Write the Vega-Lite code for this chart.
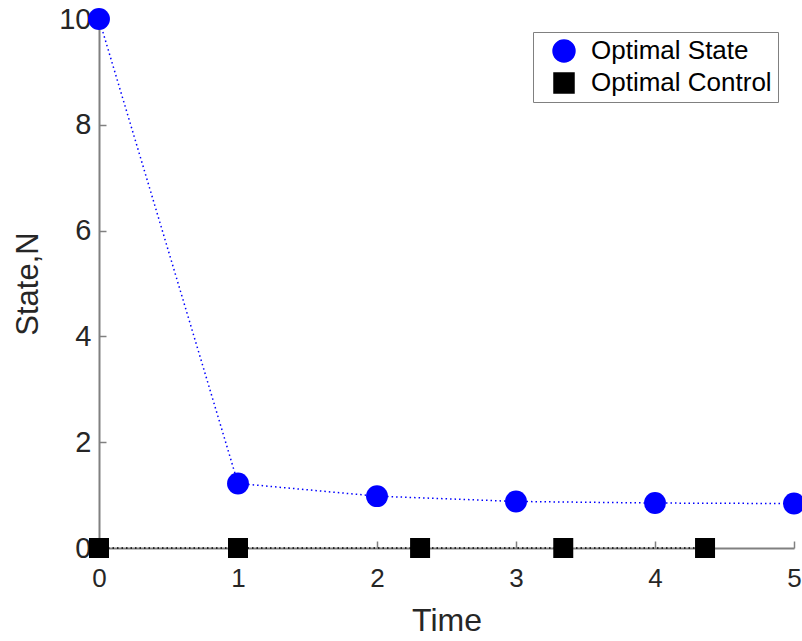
{
  "$schema": "https://vega.github.io/schema/vega-lite/v6.json",
  "width": 695,
  "height": 529,
  "autosize": {"type": "none"},
  "padding": {"left": 99, "top": 19, "right": 8, "bottom": 93},
  "background": "white",
  "config": {
    "view": {"stroke": null},
    "font": "Liberation Sans",
    "axis": {
      "grid": false,
      "domainColor": "#808080",
      "domainWidth": 2,
      "tickColor": "#808080",
      "tickWidth": 1.5,
      "tickSize": -7,
      "labelColor": "#262626",
      "titleColor": "#262626",
      "labelFont": "Liberation Sans",
      "titleFont": "Liberation Sans",
      "titleFontWeight": "normal",
      "labelFlush": false
    }
  },
  "datasets": {
    "pts": [
      {"time": 0, "value": 10, "series": "Optimal State"},
      {"time": 1, "value": 1.22, "series": "Optimal State"},
      {"time": 2, "value": 0.98, "series": "Optimal State"},
      {"time": 3, "value": 0.88, "series": "Optimal State"},
      {"time": 4, "value": 0.85, "series": "Optimal State"},
      {"time": 5, "value": 0.84, "series": "Optimal State"},
      {"time": 0, "value": 0, "series": "Optimal Control"},
      {"time": 1, "value": 0, "series": "Optimal Control"},
      {"time": 2.31, "value": 0, "series": "Optimal Control"},
      {"time": 3.34, "value": 0, "series": "Optimal Control"},
      {"time": 4.36, "value": 0, "series": "Optimal Control"}
    ]
  },
  "data": {"name": "pts"},
  "encoding": {
    "x": {
      "field": "time", "type": "quantitative",
      "scale": {"domain": [0, 5], "nice": false, "zero": false},
      "axis": {"title": "Time", "values": [0, 1, 2, 3, 4, 5], "format": "d", "labelFontSize": 26, "titleFontSize": 32, "labelPadding": 24, "titlePadding": 14}
    },
    "y": {
      "field": "value", "type": "quantitative",
      "scale": {"domain": [0, 10], "nice": false},
      "axis": {"title": "State,N", "values": [0, 2, 4, 6, 8, 10], "format": "d", "labelFontSize": 29, "titleFontSize": 31, "labelPadding": 15, "titlePadding": 14}
    },
    "color": {"field": "series", "type": "nominal", "scale": {"domain": ["Optimal State", "Optimal Control"], "range": ["#0000ff", "#000000"]},
      "legend": {
        "title": null, "orient": "none", "legendX": 434, "legendY": 13,
        "labelFontSize": 26, "labelColor": "#000000", "labelFont": "Liberation Sans", "labelLimit": 400,
        "symbolSize": 380, "strokeColor": "#808080", "fillColor": "white",
        "padding": 6, "rowPadding": 5, "labelOffset": 14, "symbolOffset": 12, "symbolType": "circle"
      }}
  },
  "layer": [
    {
      "mark": {"type": "line", "strokeDash": [1.5, 3], "strokeWidth": 1.5, "clip": false},
      "encoding": {
        "detail": {"field": "series"}
      }
    },
    {
      "mark": {"type": "point", "filled": true, "opacity": 1, "clip": false},
      "encoding": {
        "shape": {"field": "series", "type": "nominal", "scale": {"domain": ["Optimal State", "Optimal Control"], "range": ["circle", "square"]},
          "legend": {
            "title": null, "orient": "none", "legendX": 434, "legendY": 13,
            "labelFontSize": 26, "labelColor": "#000000", "labelFont": "Liberation Sans", "labelLimit": 400,
            "symbolSize": 380, "strokeColor": "#808080", "fillColor": "white",
            "padding": 6, "rowPadding": 5, "labelOffset": 14, "symbolOffset": 12
          }},
        "size": {"field": "series", "type": "nominal", "scale": {"domain": ["Optimal State", "Optimal Control"], "range": [480, 400]}, "legend": null}
      }
    }
  ]
}
